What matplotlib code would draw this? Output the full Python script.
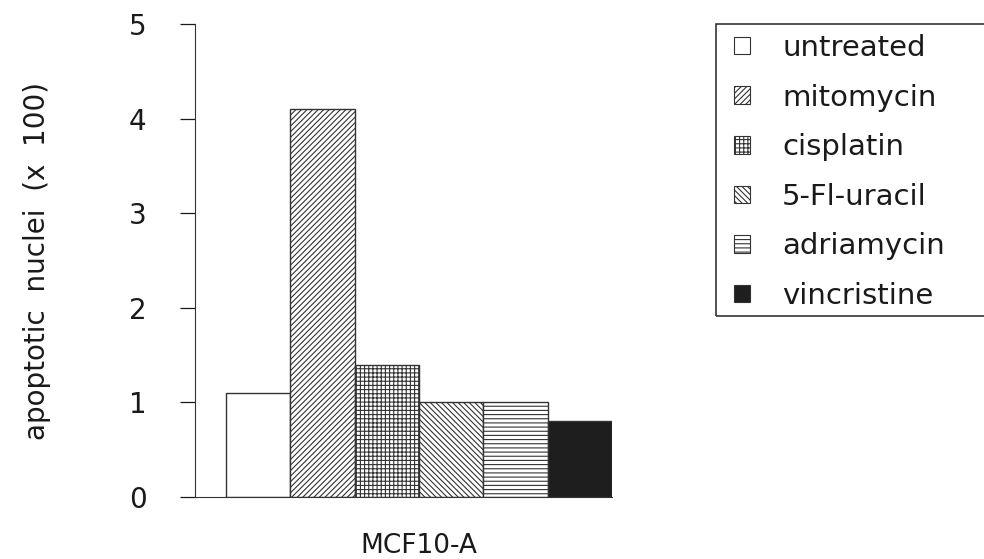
import matplotlib
matplotlib.use("Agg")
import matplotlib.pyplot as plt
from matplotlib.patches import Rectangle

categories = ["untreated", "mitomycin", "cisplatin", "5-Fl-uracil", "adriamycin", "vincristine"]
values = [1.1, 4.1, 1.4, 1.0, 1.0, 0.8]
group_label = "MCF10-A"
yticks = [0, 1, 2, 3, 4, 5]
ylabel = "apoptotic  nuclei  (x  100)"

hatches = ["", "//////", "++++", "\\\\\\\\\\\\", "----", ""]
faces = ["white", "white", "white", "white", "white", "#1e1e1e"]

plt.rcParams["font.family"] = ["DejaVu Sans"]
plt.rcParams["hatch.linewidth"] = 0.8
plt.rcParams["hatch.color"] = "#333333"

txt = "#1a1a1a"
fig = plt.figure(figsize=(9.84, 5.59), dpi=100)
ax = fig.add_axes([195/984, 62/559, (612-195)/984, (497-24)/559])

xs = list(range(len(categories)))
bars = ax.bar(xs, values, width=1.0, color=faces, edgecolor="#333333", linewidth=1.0)
for b, h in zip(bars, hatches):
    if h:
        b.set_hatch(h)

ax.set_xlim(-0.5 - 0.48, len(categories) - 0.5)
ax.set_ylim(0, 5)
ax.set_yticks(yticks)
ax.set_yticklabels([str(t) for t in yticks], fontsize=20)
ax.tick_params(axis="y", direction="out", length=11, width=0.9, pad=24, colors=txt)
ax.set_xticks([(len(categories) - 1) / 2])
ax.set_xticklabels([group_label], fontsize=19)
ax.tick_params(axis="x", length=0, pad=26, colors=txt)
for s in ["top", "right"]:
    ax.spines[s].set_visible(False)
ax.spines["left"].set_color("#333333")
ax.spines["bottom"].set_color("#333333")
ax.set_ylabel(ylabel, fontsize=20, labelpad=56, color=txt)

handles = [Rectangle((0, 0), 1, 1, facecolor=f, edgecolor="#333333", hatch=(h if h else None), linewidth=0.8)
           for f, h in zip(faces, hatches)]
leg = fig.legend(handles, categories, loc="upper left",
                 bbox_to_anchor=(734/984, 1 - 34/559), borderaxespad=0,
                 fontsize=21, handlelength=0.55, handleheight=0.55, labelspacing=0.74,
                 handletextpad=1.1, borderpad=0.0, frameon=False)
for t in leg.get_texts():
    t.set_color(txt)

frame = Rectangle((716/984, 1 - 316/559), (995 - 716)/984, (316 - 24)/559,
                  transform=fig.transFigure, fill=False, edgecolor="#333333",
                  linewidth=1.2, clip_on=False)
fig.add_artist(frame)

fig.savefig("out.png", dpi=100)
